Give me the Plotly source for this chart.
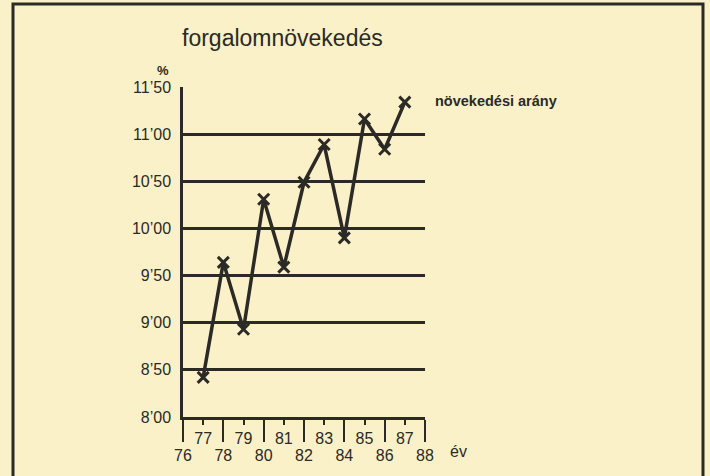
import plotly.graph_objects as go

years = [77, 78, 79, 80, 81, 82, 83, 84, 85, 86, 87]
growth = [8.42, 9.64, 8.93, 10.31, 9.59, 10.49, 10.89, 9.90, 11.16, 10.84, 11.34]

y_ticks = [8.0, 8.5, 9.0, 9.5, 10.0, 10.5, 11.0, 11.5]
y_labels = ["8’00", "8’50", "9’00", "9’50", "10’00", "10’50", "11’00", "11’50"]
even_years = [76, 78, 80, 82, 84, 86, 88]
odd_years = [77, 79, 81, 83, 85, 87]

title_text = "forgalomnövekedés"
series_name = "növekedési arány"
x_title = "év"
y_unit = "%"

INK = "#2b2a27"
BG = "#FAF1C8"
FONT = "Liberation Sans, Arial, sans-serif"

fig = go.Figure()
fig.add_trace(go.Scatter(
    x=years, y=growth, mode="lines+markers", name=series_name,
    line=dict(color=INK, width=3.5),
    marker=dict(symbol="x-thin", size=11, line=dict(color=INK, width=3), color=INK),
    cliponaxis=False,
))
# invisible trace to activate the second x axis (odd years)
fig.add_trace(go.Scatter(x=[76, 88], y=[8, 8], xaxis="x2", mode="lines",
                         line=dict(width=0), hoverinfo="skip", showlegend=False))

fig.update_layout(
    width=710, height=476,
    margin=dict(l=183, r=285, t=87, b=55),
    paper_bgcolor=BG, plot_bgcolor=BG,
    showlegend=False,
    font=dict(family=FONT, color=INK, size=16),
    xaxis=dict(
        range=[76, 88], tickmode="array", tickvals=even_years,
        ticktext=[str(v) for v in even_years],
        ticks="outside", ticklen=22, tickwidth=2, tickcolor=INK,
        showline=True, linecolor=INK, linewidth=2.5,
        showgrid=False, zeroline=False,
        tickfont=dict(size=16, family=FONT, color=INK),
    ),
    xaxis2=dict(
        range=[76, 88], overlaying="x", side="bottom", anchor="y",
        tickmode="array", tickvals=odd_years,
        ticktext=[str(v) for v in odd_years],
        ticks="outside", ticklen=7, tickwidth=2, tickcolor=INK,
        showline=False, showgrid=False, zeroline=False,
        tickfont=dict(size=16, family=FONT, color=INK),
    ),
    yaxis=dict(
        range=[8, 11.5], tickmode="array", tickvals=y_ticks, ticktext=y_labels,
        ticks="", showline=True, linecolor=INK, linewidth=2.5,
        showgrid=True, gridcolor=INK, gridwidth=2.5, zeroline=False,
        ticklabelstandoff=6,
        tickfont=dict(size=16, family=FONT, color=INK),
    ),
)

ann = [
    dict(text=title_text, x=-0.012, y=1.147, xanchor="left", yanchor="middle",
         font=dict(size=23, family=FONT, color=INK)),
    dict(text="<b>" + y_unit + "</b>", x=-0.083, y=1.051, xanchor="center", yanchor="middle",
         font=dict(size=13, family=FONT, color=INK)),
    dict(text="<b>" + series_name + "</b>", x=1.033, y=0.958, xanchor="left", yanchor="middle",
         font=dict(size=14.5, family=FONT, color=INK)),
    dict(text=x_title, x=1.095, y=-0.105, xanchor="left", yanchor="middle",
         font=dict(size=16, family=FONT, color=INK)),
]
for a in ann:
    a.update(xref="paper", yref="paper", showarrow=False)
fig.update_layout(annotations=ann)

# outer frame of the printed figure
fig.add_shape(type="rect", xref="paper", yref="paper",
              x0=(13 - 183) / 242, x1=(703 - 183) / 242,
              y0=(421 - 490) / 334, y1=(421 - 3) / 334,
              line=dict(color=INK, width=3), fillcolor="rgba(0,0,0,0)", layer="below")

fig.write_html("out.html", config={"displayModeBar": False},
               post_script="document.body.style.margin='0';document.body.style.background='%s';" % BG)
